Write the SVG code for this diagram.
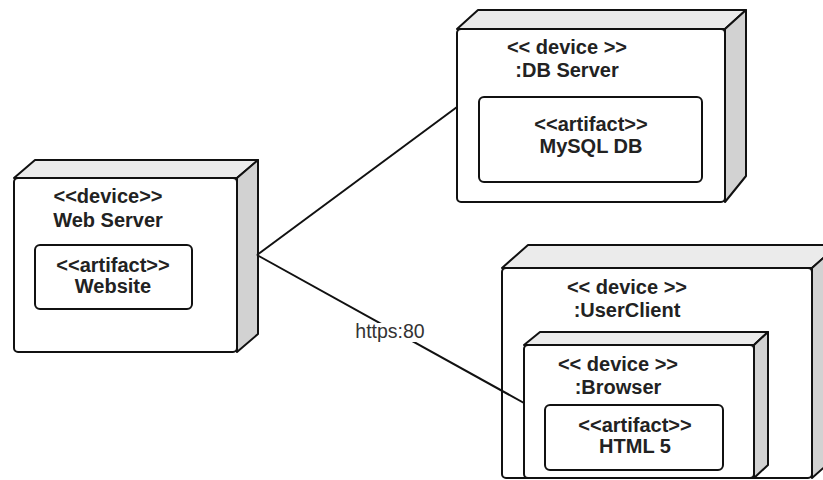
<svg xmlns="http://www.w3.org/2000/svg" width="823" height="480" viewBox="0 0 823 480">
<style>
.front{fill:#ffffff;stroke:#111;stroke-width:2;}
.top{fill:#ebebeb;stroke:#111;stroke-width:2;stroke-linejoin:round;}
.side{fill:#d2d2d2;stroke:#111;stroke-width:2;stroke-linejoin:round;}
.art{fill:#ffffff;stroke:#111;stroke-width:2;}
.t{font-family:"Liberation Sans",Arial,sans-serif;font-weight:bold;font-size:20px;fill:#222;text-anchor:middle;}
.lbl{font-family:"Liberation Sans",Arial,sans-serif;font-size:19.5px;fill:#333;text-anchor:middle;}
.conn{stroke:#111;stroke-width:2;fill:none;}
</style>
<rect width="823" height="480" fill="#ffffff"/>
<g id="web-server">
<path class="top" d="M14,178 L35,160 L258,160 L237,178 Z"/>
<path class="side" d="M237,178 L258,160 L258,334 L237,352 Z"/>
<rect class="front" x="14" y="178" width="223" height="174" rx="4"/>
<text class="t" x="108" y="203">&lt;&lt;device&gt;&gt;</text>
<text class="t" x="108" y="227">Web Server</text>
<g id="website">
<rect class="art" x="35" y="245" width="157" height="64" rx="5"/>
<text class="t" x="113" y="272">&lt;&lt;artifact&gt;&gt;</text>
<text class="t" x="113" y="293">Website</text>
</g>
</g>
<g id="db-server">
<path class="top" d="M457,29 L478,10 L746,10 L725,29 Z"/>
<path class="side" d="M725,29 L746,10 L746,176 L725,202 Z"/>
<rect class="front" x="457" y="29" width="268" height="173" rx="4"/>
<text class="t" x="567" y="54">&lt;&lt; device &gt;&gt;</text>
<text class="t" x="567" y="77">:DB Server</text>
<g id="mysql-db">
<rect class="art" x="479" y="97" width="223" height="85" rx="5"/>
<text class="t" x="591" y="131">&lt;&lt;artifact&gt;&gt;</text>
<text class="t" x="591" y="153">MySQL DB</text>
</g>
</g>
<g id="user-client">
<path class="top" d="M502,268 L528,245 L838,245 L812,268 Z"/>
<path class="side" d="M812,268 L838,245 L838,455 L812,478 Z"/>
<rect class="front" x="502" y="268" width="310" height="210" rx="4"/>
<text class="t" x="627" y="294">&lt;&lt; device &gt;&gt;</text>
<text class="t" x="627" y="317">:UserClient</text>
<g id="browser">
<path class="top" d="M524,345 L540,332 L768,332 L754,345 Z"/>
<path class="side" d="M754,345 L768,332 L768,465 L754,478 Z"/>
<rect class="front" x="524" y="345" width="230" height="133" rx="4"/>
<text class="t" x="618" y="371">&lt;&lt; device &gt;&gt;</text>
<text class="t" x="618" y="394">:Browser</text>
<g id="html5">
<rect class="art" x="545" y="405" width="178" height="65" rx="5"/>
<text class="t" x="635" y="432">&lt;&lt;artifact&gt;&gt;</text>
<text class="t" x="635" y="453">HTML 5</text>
</g>
</g>
</g>
<g id="connectors">
<line class="conn" x1="257" y1="255" x2="457" y2="107"/>
<line class="conn" x1="257" y1="255" x2="524" y2="403"/>
<rect x="355" y="323" width="71" height="19" fill="#ffffff"/>
<text class="lbl" x="390" y="338">https:80</text>
</g>
</svg>
